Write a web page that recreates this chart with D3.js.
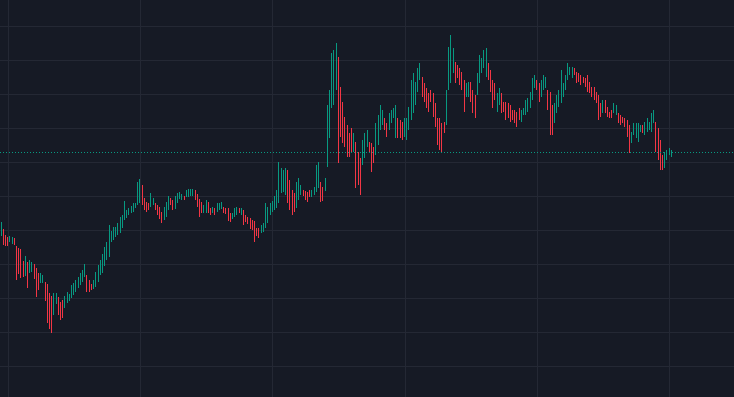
<!DOCTYPE html>
<html>
<head>
<meta charset="utf-8">
<script src="https://cdn.jsdelivr.net/npm/d3@7"></script>
<style>
  html, body { margin: 0; padding: 0; background: #161a25; }
  svg { display: block; }
</style>
</head>
<body>
<div id="chart"></div>
<script>
const high = [
  178,171,165,163,164,163,162,154,152,151, 139,144,138,140,138,136,132,127,127,125,
  118,116,107,104,107,107,103,98,100,104, 108,106,115,117,120,123,127,130,136,125,
  120,116,120,128,135,140,146,153,158,175, 169,173,173,177,183,185,199,190,192,194,
  197,197,218,221,215,202,198,197,207,202, 197,195,193,188,193,198,204,202,200,204,
  207,208,206,204,210,211,211,211,210,206, 201,198,195,200,198,192,193,192,197,197,
  198,193,192,192,187,187,192,193,192,192, 190,185,183,182,180,179,172,172,175,177,
  197,193,197,199,204,210,238,232,230,232, 230,220,210,207,218,222,215,210,209,208,
  210,210,213,235,238,218,213,222,295,310, 347,350,357,343,313,298,283,275,267,272,
  267,258,248,242,260,267,270,258,257,253, 277,285,295,290,282,277,287,290,292,295,
  282,280,278,282,282,293,320,327,318,332, 337,323,317,312,307,310,307,297,282,282,
  277,278,310,353,365,352,338,335,332,328, 320,317,318,318,310,305,327,345,342,350,
  352,337,330,320,317,307,312,307,298,298, 297,295,290,290,288,292,290,292,300,302,
  308,322,325,320,317,320,325,323,310,308, 295,297,305,310,330,317,325,337,333,333,
  332,328,327,325,323,322,325,318,313,313, 308,305,297,300,300,293,288,290,297,295,
  287,285,283,282,280,275,268,277,277,277, 275,275,278,282,278,287,290,278,272,260,
  245,248,250,252,250
];
const low = [
  164,155,154,154,158,156,155,120,126,122, 123,124,112,127,128,121,103,110,117,117,
  99,77,71,67,85,96,85,80,82,92, 97,99,102,105,108,112,115,118,123,108,
  108,110,111,113,118,125,127,134,140,143, 158,160,163,165,167,172,180,182,185,187,
  188,192,195,197,195,190,188,190,193,195, 190,185,181,177,180,183,190,195,190,191,
  197,201,200,200,203,203,204,204,200,193, 183,187,187,187,187,185,187,185,188,190,
  191,187,186,179,178,181,183,185,187,185, 175,178,176,171,170,158,164,162,167,168,
  172,177,185,188,190,192,197,207,208,205, 197,190,185,188,192,200,205,204,200,198,
  203,203,205,208,212,198,199,209,233,262, 292,295,310,237,263,257,253,243,243,247,
  248,212,215,205,235,242,253,247,228,237, 245,255,270,275,270,263,270,277,282,262,
  262,262,260,263,260,270,280,287,295,308, 320,303,298,292,288,298,283,273,255,250,
  247,267,275,310,317,327,317,322,315,310, 288,303,303,298,287,282,305,317,327,332,
  323,320,308,292,300,288,295,287,288,280, 282,278,280,277,273,280,278,285,285,288,
  292,300,312,310,298,303,310,312,290,265, 265,277,287,293,297,303,310,320,325,322,
  325,317,318,315,317,313,308,307,303,300, 297,280,283,287,287,283,282,282,287,285,
  277,275,277,273,263,247,257,265,262,258, 268,267,265,268,270,268,277,248,240,230,
  230,232,240,245,243
];
const open = [
  166,170,162,160,159,157,161,153,150,147, 137,126,136,129,130,135,128,125,118,119,
  117,112,104,100,88,98,102,96,98,94, 99,100,104,107,110,114,117,120,125,124,
  118,115,112,115,120,127,129,136,142,145, 160,162,165,167,169,174,182,184,186,188,
  189,193,196,200,214,200,196,196,194,196, 196,194,191,187,181,185,192,201,199,192,
  198,202,201,203,204,204,205,205,209,205, 199,196,188,189,197,191,188,191,189,191,
  192,192,191,190,186,182,184,186,191,186, 189,184,182,181,178,177,171,170,168,169,
  174,179,187,190,192,194,199,210,210,207, 228,218,208,205,194,202,206,209,208,207,
  209,204,206,210,214,217,212,210,236,265, 295,298,313,340,310,295,280,272,265,270,
  250,256,246,240,237,244,255,257,255,252, 247,257,272,276,281,276,272,278,283,265,
  280,278,276,265,262,272,283,290,297,310, 322,321,315,310,305,308,305,295,280,279,
  275,277,277,313,320,329,336,334,331,326, 318,304,305,316,308,303,307,320,328,334,
  326,336,328,318,315,290,297,305,297,296, 296,293,289,288,286,291,279,286,287,290,
  294,302,313,319,315,305,312,313,308,305, 293,279,289,295,299,304,312,322,326,324,
  331,327,326,324,322,321,323,317,312,311, 307,303,296,288,299,292,287,289,288,286,
  286,284,282,281,278,273,258,266,264,260, 269,274,267,269,271,270,278,276,270,258,
  244,234,241,246,245
];
const close = [
  176,157,156,156,163,162,156,124,128,124, 125,142,116,138,136,123,106,112,125,124,
  101,80,75,70,105,105,88,83,85,102, 106,105,113,115,118,121,125,128,134,110,
  110,111,118,126,133,138,144,151,156,170, 167,171,171,175,181,183,195,189,191,193,
  196,196,214,217,197,192,190,191,205,201, 191,187,183,179,191,196,202,196,192,202,
  205,207,205,201,209,210,210,210,201,195, 186,189,194,198,189,186,192,186,196,196,
  197,188,187,181,180,186,190,192,188,191, 177,179,177,173,172,163,165,164,174,176,
  194,191,195,197,202,207,232,229,228,229, 199,192,188,190,215,219,213,205,201,199,
  204,209,212,232,235,200,201,220,290,305, 342,345,352,242,266,260,255,246,245,249,
  265,215,218,208,258,264,268,248,231,239, 274,282,292,288,271,265,285,288,291,292,
  264,264,262,280,280,290,316,323,315,330, 335,305,300,294,290,299,285,275,258,253,
  250,268,306,348,360,350,319,323,317,312, 291,315,316,300,289,284,324,342,340,348,
  349,322,310,295,302,305,310,289,289,282, 284,280,281,279,275,281,288,291,298,300,
  306,319,323,311,300,318,323,321,292,270, 268,295,303,308,325,315,323,334,332,331,
  326,318,319,316,318,314,310,308,304,302, 298,283,285,298,288,284,283,283,296,294,
  278,276,278,274,265,250,266,275,275,275, 274,268,276,280,277,285,288,250,243,233,
  232,246,248,250,247.5
];

// horizontal grid levels (price) and vertical grid bars (bar index)
const gridPrices = [34, 68, 102, 136, 170, 204, 238, 272, 306, 340, 374];
const gridBars = [3, 63, 123, 183, 243, 303];

const width = 734;
const height = 397;
const upColor = "#089981";
const downColor = "#f23645";
const gridColor = "#242834";

const bars = high.map((h, i) => ({
  i,
  o: open[i],
  h,
  l: low[i],
  c: close[i]
}));

const x = d3.scaleLinear().domain([0, bars.length - 1]).range([1, 671.3]);
const y = d3.scaleLinear().domain([0, 400]).range([400, 0]);

const svg = d3
  .select("#chart")
  .append("svg")
  .attr("width", width)
  .attr("height", height)
  .attr("viewBox", [0, 0, width, height]);

svg.append("rect")
  .attr("width", width)
  .attr("height", height)
  .attr("fill", "#161a25");

// grid
const grid = svg.append("g").attr("shape-rendering", "crispEdges");

grid.selectAll("line.h")
  .data(gridPrices)
  .join("line")
  .attr("class", "h")
  .attr("x1", 0)
  .attr("x2", width)
  .attr("y1", (d) => Math.round(y(d)) + 0.5)
  .attr("y2", (d) => Math.round(y(d)) + 0.5)
  .attr("stroke", gridColor);

grid.selectAll("line.v")
  .data(gridBars)
  .join("line")
  .attr("class", "v")
  .attr("x1", (d) => Math.round(x(d)) + 0.5)
  .attr("x2", (d) => Math.round(x(d)) + 0.5)
  .attr("y1", 0)
  .attr("y2", height)
  .attr("stroke", gridColor);

// candles
const candles = svg.append("g")
  .attr("shape-rendering", "crispEdges")
  .selectAll("g")
  .data(bars)
  .join("g")
  .attr("fill", (d) => (d.c >= d.o ? upColor : downColor));

candles.append("rect")
  .attr("x", (d) => Math.floor(x(d.i)))
  .attr("y", (d) => y(d.h))
  .attr("width", 1)
  .attr("height", (d) => Math.max(1, y(d.l) - y(d.h)));

candles.append("rect")
  .attr("x", (d) => Math.floor(x(d.i)))
  .attr("y", (d) => y(Math.max(d.o, d.c)))
  .attr("width", 1.4)
  .attr("height", (d) => Math.max(1, Math.abs(y(d.o) - y(d.c))));

// last price line
const last = bars[bars.length - 1];
svg.append("line")
  .attr("x1", 0)
  .attr("x2", width)
  .attr("y1", Math.floor(y(last.c)) + 0.5)
  .attr("y2", Math.floor(y(last.c)) + 0.5)
  .attr("stroke", upColor)
  .attr("stroke-width", 1)
  .attr("stroke-dasharray", "1,2");
</script>
</body>
</html>
